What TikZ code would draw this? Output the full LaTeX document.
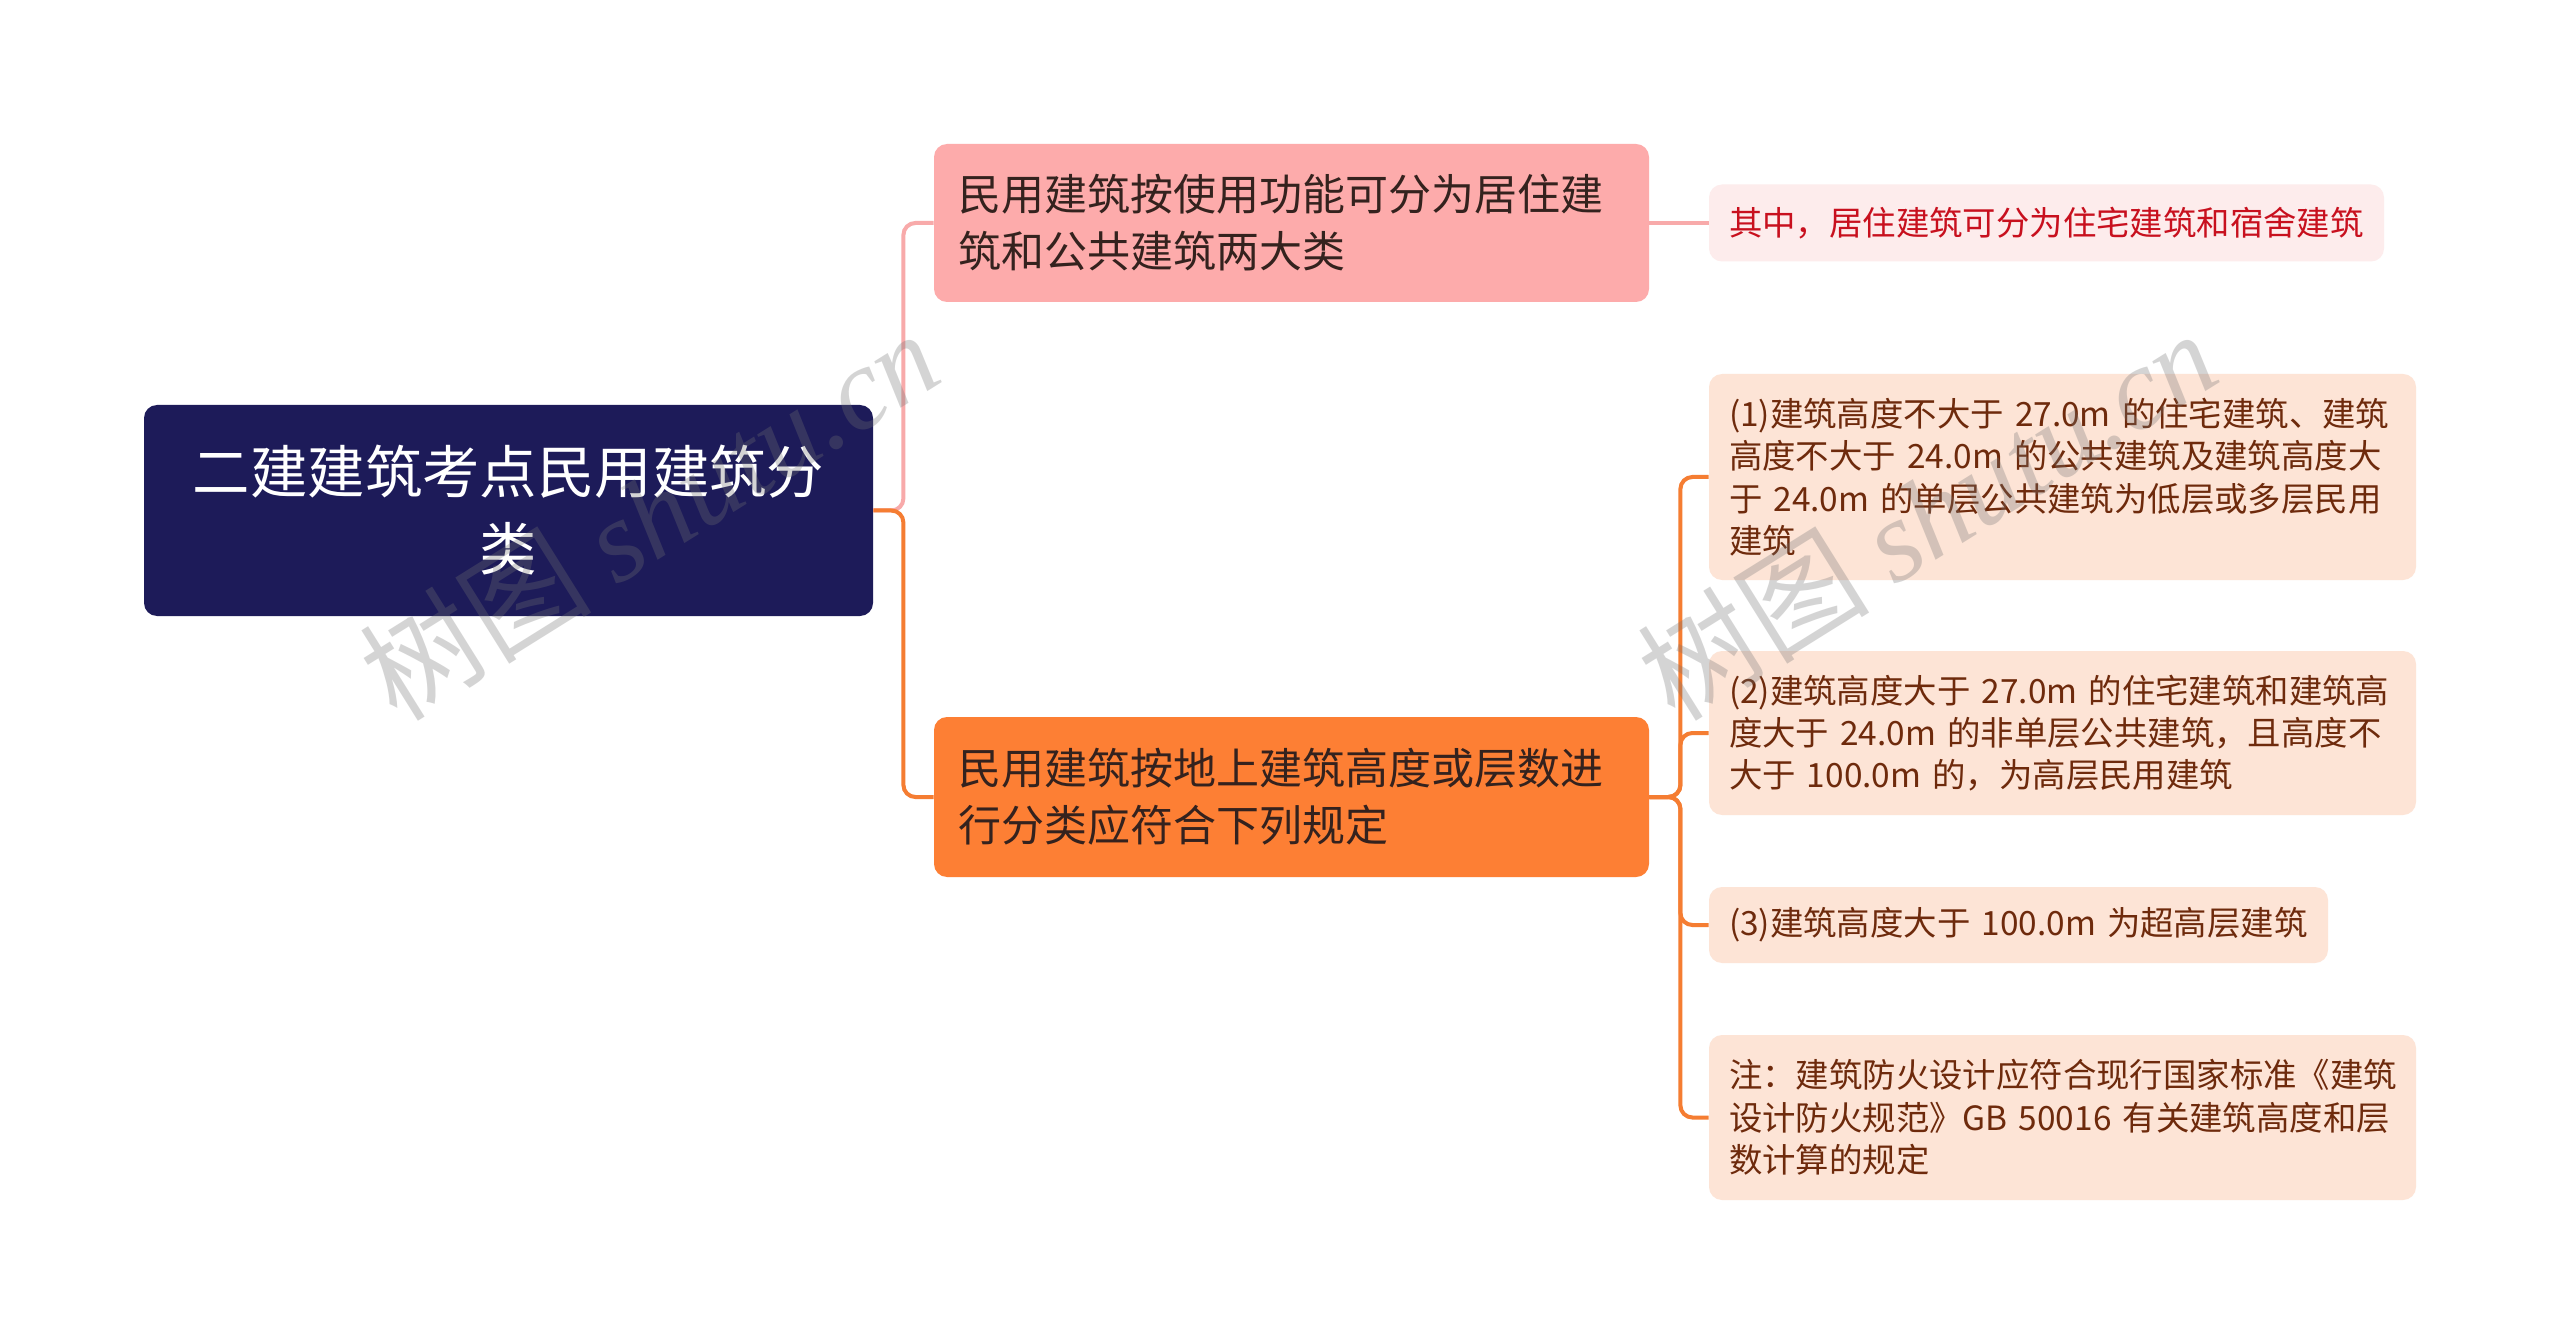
\documentclass[tikz,border=0pt]{standalone}
\usepackage{fontspec}
\setmainfont{Noto Sans CJK SC}
\newfontfamily\wmlatin{Liberation Serif}
\definecolor{rootc}{RGB}{29,27,89}
\definecolor{b1c}{RGB}{253,171,171}
\definecolor{b2c}{RGB}{253,127,52}
\definecolor{l0c}{RGB}{253,236,236}
\definecolor{leafc}{RGB}{253,228,214}
\definecolor{darktext}{RGB}{52,34,30}
\definecolor{redtext}{RGB}{200,16,30}
\definecolor{browntext}{RGB}{110,42,12}
\definecolor{pinkline}{RGB}{248,170,170}
\definecolor{orangeline}{RGB}{245,125,50}
\begin{document}
\begin{tikzpicture}[x=0.5pt,y=-0.5pt,
  box/.style={rounded corners=6.5pt, inner ysep=0pt, anchor=center},
  rootbox/.style={box, fill=rootc, text=white, minimum width=364.5pt, minimum height=105.5pt, align=center, font=\fontsize{28.7}{38.5}\selectfont},
  brbox/.style={box, inner xsep=12pt, text width=333.5pt, align=left, minimum height=79pt, font=\fontsize{21.5}{28.5}\selectfont, text=darktext},
  leafbox/.style={box, inner xsep=10pt, align=left, fill=leafc, text=browntext, font=\fontsize{16.7}{21.2}\selectfont},
  link/.style={line width=2pt, rounded corners=6pt},
  wm/.style={rotate=32, text=black!55, opacity=0.3, font=\fontsize{58}{62}\selectfont}
]
\fill[white] (0,0) rectangle (2560,1342);
\useasboundingbox (0,0) rectangle (2560,1342);

\node[rootbox] (root) at (508.5,510.5) {二建建筑考点民用建筑分\\类};
\node[brbox, fill=b1c] (b1) at (1291.5,223) {民用建筑按使用功能可分为居住建\\筑和公共建筑两大类};
\node[brbox, fill=b2c, minimum height=80pt] (b2) at (1291.5,797) {民用建筑按地上建筑高度或层数进\\行分类应符合下列规定};

\node[leafbox, fill=l0c, text=redtext, text width=317.5pt, minimum height=38.5pt] (l0) at (2046.5,223) {其中，居住建筑可分为住宅建筑和宿舍建筑};
\node[leafbox, text width=333.5pt, minimum height=103pt] (l1) at (2062.5,477) {(1)建筑高度不大于~27.0m~的住宅建筑、建筑\\高度不大于~24.0m~的公共建筑及建筑高度大\\于~24.0m~的单层公共建筑为低层或多层民用\\建筑};
\node[leafbox, text width=333.5pt, minimum height=82pt] (l2) at (2062.5,733) {(2)建筑高度大于~27.0m~的住宅建筑和建筑高\\度大于~24.0m~的非单层公共建筑，且高度不\\大于~100.0m~的，为高层民用建筑};
\node[leafbox, text width=289.5pt, minimum height=38pt] (l3) at (2018.5,925) {(3)建筑高度大于~100.0m~为超高层建筑};
\node[leafbox, text width=333.5pt, minimum height=82.5pt] (l4) at (2062.5,1117.5) {注：建筑防火设计应符合现行国家标准《建筑\\设计防火规范》GB~50016~有关建筑高度和层\\数计算的规定};

\draw[link, pinkline] (root.east) -- ++(30,0) |- (b1.west);
\draw[link, orangeline] (root.east) -- ++(30,0) |- (b2.west);
\draw[link, pinkline] (b1.east) -- (l0.west);
\foreach \n in {l1,l2,l3,l4} {
  \draw[link, orangeline] (b2.east) -- ++(31,0) |- (\n.west);
}

\node[wm] (wm1) at (649,514) {树图 {\wmlatin\itshape shutu.cn}};
\node[wm] (wm2) at (1927,514) {树图 {\wmlatin\itshape shutu.cn}};
\end{tikzpicture}
\end{document}
